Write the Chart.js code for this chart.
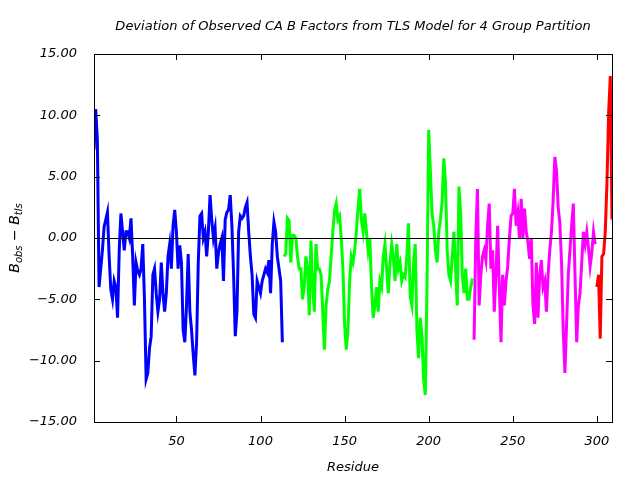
<!DOCTYPE html>
<html>
<head>
<meta charset="utf-8">
<script src="https://cdn.jsdelivr.net/npm/chart.js@4/dist/chart.umd.min.js"></script>
<style>
  html, body { margin: 0; padding: 0; background: #fff; }
</style>
</head>
<body>
<canvas id="chart" width="640" height="480"></canvas>
<script>
// values, one per residue

// group 1: residues 1-113
const blueStart = 1;
const blueValues = [
  7.2, 10.5, 8.0, -4.0, -2.5, -1.0, 0.9, 1.5, 2.1, -1.5,
  -4.2, -5.0, -3.5, -4.0, -6.5, -1.0, 2.0, 0.5, -1.0, 0.5,
  0.5, 0.0, 1.6, -1.5, -5.5, -2.0, -2.7, -3.0, -2.5, -0.5,
  -5.0, -11.5, -11.0, -9.0, -8.0, -3.0, -2.5, -4.5, -6.0, -5.0,
  -2.0, -4.5, -6.0, -4.5, -1.5, -0.5, -2.5, 1.0, 2.3, 0.5,
  -2.5, -0.6, -2.0, -7.5, -8.5, -5.5, -1.3, -6.0, -7.5, -9.5,
  -11.2, -8.5, -2.0, 1.8, 2.0, 0.0, 0.5, -1.5, 0.5, 3.5,
  1.5, 0.0, 0.8, -2.5, -1.2, -0.5, 0.0, -3.5, 1.5, 2.1,
  2.3, 3.5, 1.0, -3.0, -8.0, -6.0, 0.5, 1.8, 1.6, 1.8,
  2.5, 2.9, 0.5, -1.5, -3.0, -6.2, -6.5, -3.5, -4.0, -4.5,
  -3.5, -3.0, -2.5, -2.8, -1.8, -4.5, -0.5, 1.3, 0.5, -1.5,
  -2.5, -3.5, -8.5
];

// group 2: residues 114-226
const greenStart = 114;
const greenValues = [
  -1.5, -1.3, 1.6, 1.4, -2.0, 0.2, 0.2, 0.0, -1.5, -2.5,
  -2.5, -5.0, -4.0, -1.5, -2.5, -6.3, -0.2, -4.0, -6.0, -0.5,
  -2.5, -2.5, -3.0, -6.0, -9.1, -5.5, -4.2, -3.5, -1.5, 0.5,
  2.2, 2.8, 1.5, 1.8, 0.0, -2.5, -7.0, -9.1, -7.5, -3.5,
  -1.5, -2.0, -1.0, 0.5, 2.5, 4.0, 1.5, 0.5, 2.0, 0.5,
  -1.0, 0.0, -4.0, -6.5, -5.5, -4.0, -6.0, -3.5, -4.0, -1.5,
  -0.5, -2.5, -4.5, -2.0, -0.5, -1.5, -3.5, -0.5, -2.5, -2.0,
  -3.5, -3.0, -3.2, -1.5, 1.2, -4.8, -5.5, -2.0, -0.5, -7.5,
  -9.8, -6.5, -8.0, -11.5, -12.8, -4.0, 8.8, 5.5, 2.0, 1.0,
  -1.0, -2.0, 0.5, 1.5, 3.0, 6.5, 4.5, -1.0, -3.0, -3.5,
  -1.5, 0.5, -2.5, -5.5, 4.2, 2.0, -3.0, -4.5, -2.5, -5.0,
  -5.0, -4.0, -3.3
];

// group 3: residues 227-299
const magentaStart = 227;
const magentaValues = [
  -8.3, 0.0, 4.0, -5.5, -3.0, -1.5, -1.0, -1.8, 1.0, 2.8,
  -2.5, -1.0, -6.0, -3.0, 1.0, -4.0, -8.5, -3.0, -5.5, -3.5,
  -2.3, 0.0, 1.8, 2.0, 4.0, 1.0, 2.0, 0.0, 3.2, 0.0,
  2.4, 0.5, -0.3, -1.7, 0.0, -5.5, -7.0, -2.0, -6.5, -3.0,
  -1.8, -4.0, -3.5, -6.0, -3.0, -1.0, 0.5, 3.0, 6.6, 5.5,
  2.5, 1.2, -2.0, -7.5, -11.0, -7.0, -3.0, -1.0, 1.0, 2.8,
  -3.0, -8.5, -5.5, -4.5, -2.0, 0.5, -0.5, 0.5, -0.8, -2.3,
  -1.2, 0.5, -0.5
];

// group 4: residues 300-309
const redStart = 300;
const redValues = [-4.0, -3.0, -8.2, -1.5, -1.3, 0.5, 4.5, 10.2, 13.2, 1.5];

const xTicks = [50, 100, 150, 200, 250, 300];
const yTicks = [-15, -10, -5, 0, 5, 10, 15];

function toPoints(start, values) {
  return values.map((v, i) => ({ x: start + i, y: v }));
}

function series(start, values, color) {
  return {
    data: toPoints(start, values),
    borderColor: color,
    backgroundColor: color,
    borderWidth: 3,
    pointRadius: 0,
    tension: 0,
    fill: false
  };
}

const tickFont = { family: 'DejaVu Sans', size: 13, style: 'italic' };

// ticks on all four sides pointing inward, a line at zero, and the y title with subscripts
const frame = {
  id: 'frame',
  afterDatasetsDraw(chart) {
    const ctx = chart.ctx;
    const a = chart.chartArea;
    const xs = chart.scales.x;
    const ys = chart.scales.y;
    ctx.save();
    ctx.strokeStyle = '#000';
    ctx.lineWidth = 1;
    ctx.beginPath();
    const z = Math.round(ys.getPixelForValue(0)) + 0.5;
    ctx.moveTo(a.left, z);
    ctx.lineTo(a.right, z);
    xTicks.forEach(t => {
      const px = Math.round(xs.getPixelForValue(t)) + 0.5;
      ctx.moveTo(px, a.bottom);
      ctx.lineTo(px, a.bottom - 6);
      ctx.moveTo(px, a.top);
      ctx.lineTo(px, a.top + 6);
    });
    yTicks.forEach(t => {
      const py = Math.round(ys.getPixelForValue(t)) + 0.5;
      ctx.moveTo(a.left, py);
      ctx.lineTo(a.left + 6, py);
      ctx.moveTo(a.right, py);
      ctx.lineTo(a.right - 6, py);
    });
    ctx.stroke();
    ctx.strokeRect(Math.round(a.left) + 0.5, Math.round(a.top) + 0.5,
      Math.round(a.right - a.left), Math.round(a.bottom - a.top));

    // y axis title: B_obs - B_tls
    ctx.translate(19, (a.top + a.bottom) / 2);
    ctx.rotate(-Math.PI / 2);
    ctx.fillStyle = '#000';
    ctx.textBaseline = 'alphabetic';
    const big = 'italic 14px "DejaVu Sans"';
    const small = 'italic 10px "DejaVu Sans"';
    const parts = [
      ['B', big, 0], ['obs', small, 3], [' \u2212 ', big, 0], ['B', big, 0], ['tls', small, 3]
    ];
    let w = 0;
    parts.forEach(p => { ctx.font = p[1]; w += ctx.measureText(p[0]).width; });
    let x = -w / 2;
    parts.forEach(p => {
      ctx.font = p[1];
      ctx.fillText(p[0], x, p[2]);
      x += ctx.measureText(p[0]).width;
    });
    ctx.restore();
  }
};

new Chart(document.getElementById('chart').getContext('2d'), {
  type: 'line',
  data: {
    datasets: [
      series(blueStart, blueValues, '#0000ff'),
      series(greenStart, greenValues, '#00ff00'),
      series(magentaStart, magentaValues, '#ff00ff'),
      series(redStart, redValues, '#ff0000')
    ]
  },
  options: {
    responsive: false,
    animation: false,
    layout: { padding: { left: 0, right: 28, top: 0, bottom: 0 } },
    plugins: {
      legend: { display: false },
      tooltip: { enabled: false },
      title: {
        display: true,
        fullSize: false,
        text: 'Deviation of Observed CA B Factors from TLS Model for 4 Group Partition',
        color: '#000',
        font: { family: 'DejaVu Sans', size: 13, style: 'italic', weight: 'normal' },
        padding: { top: 19, bottom: 19.4 }
      }
    },
    scales: {
      x: {
        type: 'linear',
        min: 1,
        max: 309,
        afterBuildTicks: s => { s.ticks = xTicks.map(v => ({ value: v })); },
        afterFit: s => { s.height = 58; },
        grid: { display: false },
        border: { display: false },
        ticks: { color: '#000', font: tickFont, padding: 4, maxRotation: 0 },
        title: {
          display: true,
          text: 'Residue',
          color: '#000',
          font: { family: 'DejaVu Sans', size: 13, style: 'italic' },
          padding: { top: 4, bottom: 5 }
        }
      },
      y: {
        type: 'linear',
        min: -15,
        max: 15,
        afterBuildTicks: s => { s.ticks = yTicks.map(v => ({ value: v })); },
        afterFit: s => { s.width = 94; },
        grid: { display: false },
        border: { display: false },
        ticks: {
          color: '#000',
          font: tickFont,
          padding: 9,
          callback: v => (v < 0 ? '\u2212' + Math.abs(v).toFixed(2) : v.toFixed(2))
        }
      }
    }
  },
  plugins: [frame]
});
</script>
</body>
</html>
